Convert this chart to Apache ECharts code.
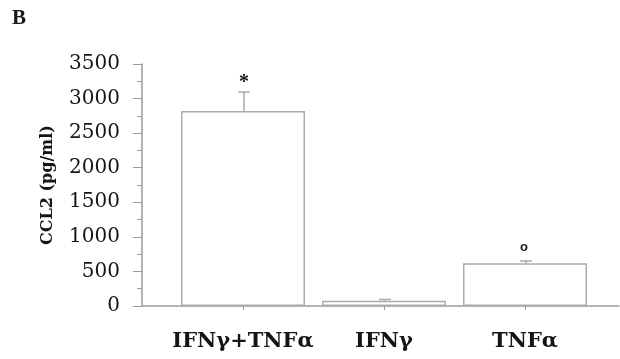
<!DOCTYPE html>
<html><head><meta charset="utf-8">
<script src="https://cdn.jsdelivr.net/npm/echarts@6/dist/echarts.min.js"></script>
<style>html,body{margin:0;padding:0;background:#fff;}#c{width:620px;height:359px;}</style>
</head><body><div id="c"></div>
<script>
var categories = ['IFNγ+TNFα', 'IFNγ', 'TNFα'];
var means = [2820, 75, 617];
var errors = [275, 20, 34];
var marks = ['*', '', 'o'];
var yTicks = [0, 500, 1000, 1500, 2000, 2500, 3000, 3500];

var chart = echarts.init(document.getElementById('c'));
var serif = 'DejaVu Serif';
var axisGray = '#9a9a9a';
var barGray = '#ababab';

chart.setOption({
  animation: false,
  backgroundColor: '#fff',
  graphic: [{type: 'text', left: 12, top: 8, style: {text: 'B', fontFamily: 'Liberation Serif', fontWeight: 'bold', fontSize: 21, fill: '#1a1a1a'}}],
  grid: [
    {left: 142, right: 1, top: 64, bottom: 53},
    {left: 172.5, right: 24.5, top: 64, bottom: 53}
  ],
  xAxis: [
    {type: 'category', gridIndex: 0, data: [''], axisLine: {lineStyle: {color: axisGray, width: 1.5}}, axisTick: {show: false}, axisLabel: {show: false}},
    {type: 'category', gridIndex: 1, data: categories,
     axisLine: {show: false},
     axisTick: {show: true, alignWithLabel: true, length: 4, lineStyle: {color: axisGray}},
     axisLabel: {interval: 0, margin: 25, color: '#151515', fontFamily: serif, fontWeight: 'bold', fontSize: 21}}
  ],
  yAxis: [
    {type: 'value', gridIndex: 0, min: yTicks[0], max: yTicks[yTicks.length - 1], interval: 500,
     name: 'CCL2 (pg/ml)', nameLocation: 'middle', nameGap: 86,
     nameTextStyle: {fontFamily: serif, fontWeight: 'bold', fontSize: 16, color: '#151515'},
     axisLine: {show: true, lineStyle: {color: axisGray, width: 1.5}},
     axisTick: {show: true, length: 9, lineStyle: {color: axisGray}},
     minorTick: {show: true, splitNumber: 2, length: 5, lineStyle: {color: axisGray}},
     splitLine: {show: false},
     axisLabel: {margin: 22, color: '#151515', fontFamily: serif, fontSize: 20, formatter: function (v) { return String(v); }}},
    {type: 'value', gridIndex: 1, min: yTicks[0], max: yTicks[yTicks.length - 1], show: false, splitLine: {show: false}}
  ],
  series: [
    {type: 'bar', xAxisIndex: 1, yAxisIndex: 1, data: means, barWidth: 124,
     itemStyle: {color: '#fff', borderColor: barGray, borderWidth: 1.5}},
    {type: 'custom', xAxisIndex: 1, yAxisIndex: 1,
     data: means.map(function (m, i) { return [i, m, m + errors[i]]; }),
     renderItem: function (params, api) {
       var x = api.coord([api.value(0), 0])[0] + 1;
       var y0 = api.coord([api.value(0), api.value(1)])[1];
       var y1 = api.coord([api.value(0), api.value(2)])[1];
       var mark = marks[params.dataIndex];
       var st = {stroke: barGray, lineWidth: 1.5};
       var children = [
         {type: 'line', shape: {x1: x, y1: y0, x2: x, y2: y1}, style: st},
         {type: 'line', shape: {x1: x - 6, y1: y1, x2: x + 6, y2: y1}, style: st}
       ];
       if (mark === '*') {
         children.push({type: 'text', x: x, y: y1 - 9,
           style: {text: mark, fill: '#151515', fontFamily: 'Liberation Serif', fontWeight: 'bold', fontSize: 20, align: 'center', verticalAlign: 'middle'}});
       } else if (mark) {
         children.push({type: 'text', x: x - 2, y: y1 - 14,
           style: {text: mark, fill: '#1a1a1a', fontFamily: 'Liberation Sans', fontWeight: 'bold', fontSize: 13, align: 'center', verticalAlign: 'middle'}});
       }
       return {type: 'group', children: children};
     }}
  ]
});
</script></body></html>
